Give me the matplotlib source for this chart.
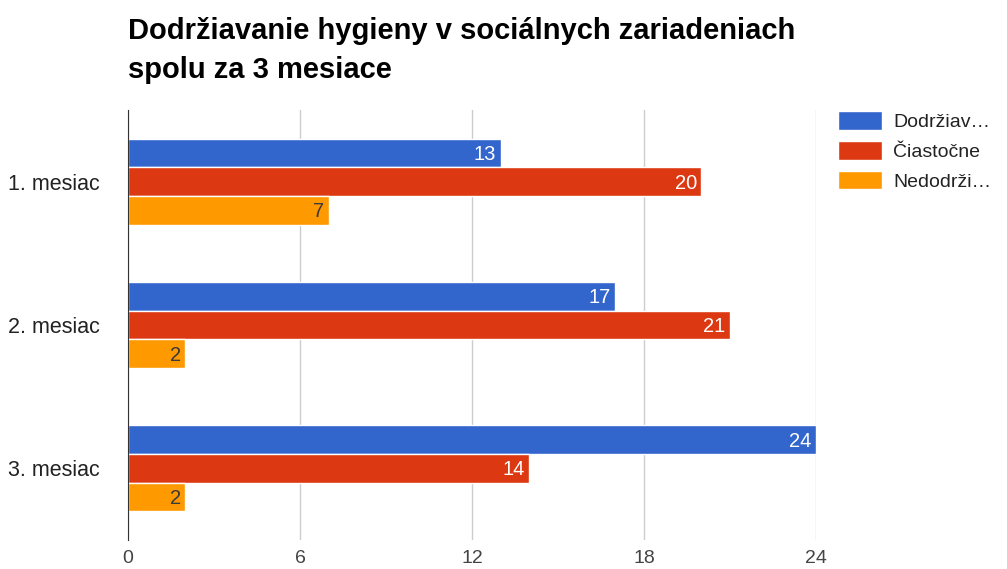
import matplotlib.pyplot as plt
import numpy as np

plt.rcParams['font.family'] = ['Liberation Sans', 'DejaVu Sans']

# data
mesiace = ['1. mesiac', '2. mesiac', '3. mesiac']
dodrziava = [13, 17, 24]
ciastocne = [20, 21, 14]
nedodrziava = [7, 2, 2]
serie_nazvy = ['Dodržiav…', 'Čiastočne', 'Nedodrži…']
x_ticks = [0, 6, 12, 18, 24]

farby = ['#3366cc', '#dc3912', '#ff9900']
farby_textu = ['white', 'white', '#3a3a3a']

W, H = 1007, 569
fig = plt.figure(figsize=(W / 100, H / 100), dpi=100)
ax = fig.add_axes([128 / W, 1 - 540 / H, (816 - 128) / W, 430 / H])

y = np.arange(len(mesiace))
vyska = 0.2
serie = [dodrziava, ciastocne, nedodrziava]
for i, hodnoty in enumerate(serie):
    pos = y + (i - 1) * vyska
    ax.barh(pos, hodnoty, height=vyska, color=farby[i], edgecolor='white',
            linewidth=1, label=serie_nazvy[i], zorder=3)
    for p, v in zip(pos, hodnoty):
        ax.text(v - 0.15, p + 0.01, str(v), ha='right', va='center',
                color=farby_textu[i], fontsize=14.5, zorder=4)

ax.set_xlim(0, 24)
ax.set_ylim(2.5, -0.5)
ax.set_xticks(x_ticks)
ax.set_yticks(y)
ax.set_yticklabels(mesiace)
ax.tick_params(axis='y', length=0, pad=20, labelsize=15.5, labelcolor='#222222')
ax.tick_params(axis='x', length=0, pad=7, labelsize=14, labelcolor='#444444')
ax.grid(axis='x', color='#cccccc', linewidth=1, zorder=0)
for s in ['top', 'right', 'bottom']:
    ax.spines[s].set_visible(False)
ax.spines['left'].set_color('#333333')
ax.spines['left'].set_zorder(5)

# title in two lines
fig.text(128 / W, 1 - 31 / H, 'Dodržiavanie hygieny v sociálnych zariadeniach',
         fontsize=21, fontweight='bold', color='#000000', va='center', ha='left')
fig.text(128 / W, 1 - 70 / H, 'spolu za 3 mesiace',
         fontsize=21, fontweight='bold', color='#000000', va='center', ha='left')

leg = ax.legend(loc='upper left', bbox_to_anchor=(838 / W, 1 - 111 / H),
                bbox_transform=fig.transFigure, frameon=False, fontsize=14,
                handlelength=2.27, handleheight=1.12, handletextpad=0.57,
                labelspacing=0.5, borderaxespad=0, borderpad=0)
for t in leg.get_texts():
    t.set_color('#222222')

fig.savefig('out.png', dpi=100)
